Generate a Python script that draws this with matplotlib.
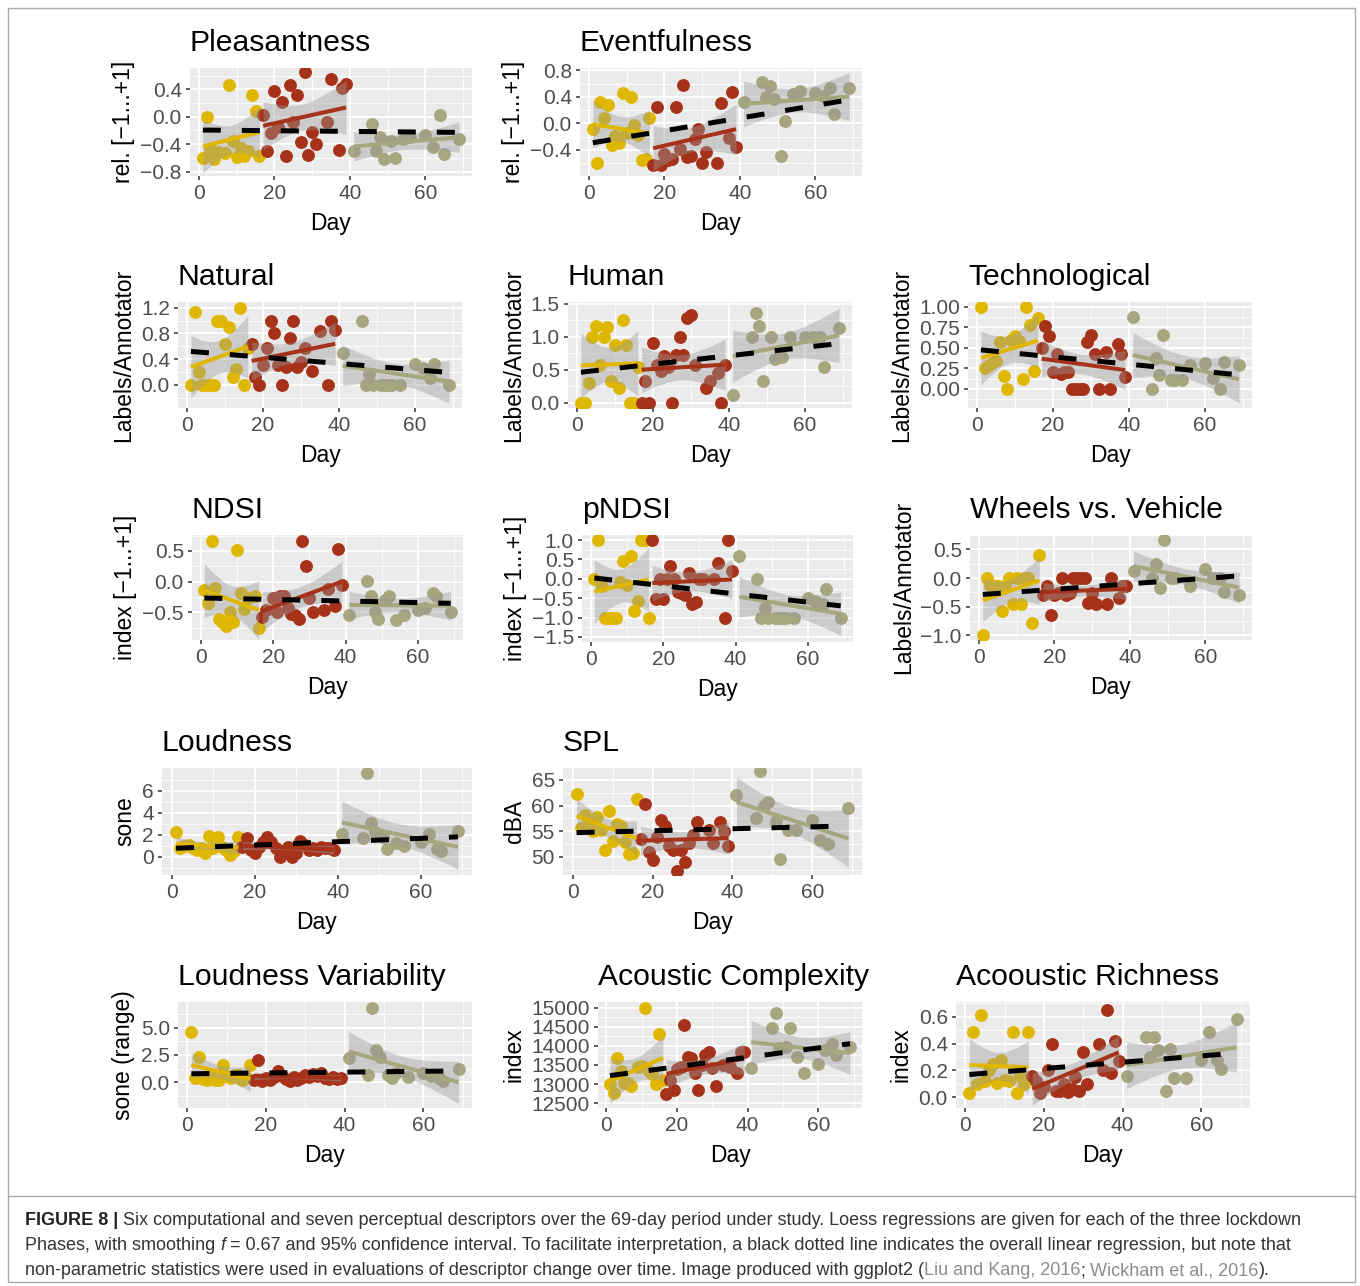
import numpy as np
import matplotlib.pyplot as plt
from matplotlib.lines import Line2D
from matplotlib.patches import Rectangle

plt.rcParams['font.family'] = ['Liberation Sans', 'DejaVu Sans']

nan = np.nan
# days of the three lockdown phases
days1 = np.arange(1, 17)
days2 = np.arange(17, 40)
days3 = np.array([41, 46, 47, 48, 49, 51, 52, 53, 54, 56, 60, 62, 64, 65, 66, 69])

pleas_p1 = [-0.60, -0.01, -0.47, -0.61, -0.51, nan, -0.53, 0.46, -0.35, -0.59, -0.45, -0.57, -0.50, 0.31, 0.09, -0.57]
pleas_p2 = [0.02, -0.50, -0.24, 0.37, -0.15, 0.21, -0.57, 0.46, -0.08, 0.31, -0.37, 0.65, -0.56, -0.22, -0.40, nan, nan, -0.08, 0.55, nan, -0.48, 0.42, 0.47]
pleas_p3 = [-0.50, -0.10, -0.50, -0.29, -0.62, -0.36, -0.60, nan, -0.32, -0.30, -0.27, -0.44, 0.02, -0.55, nan, -0.33]

event_p1 = [-0.08, -0.60, 0.33, 0.08, 0.27, -0.33, -0.19, -0.30, 0.46, -0.15, 0.40, -0.03, -0.18, -0.56, -0.54, 0.08]
event_p2 = [-0.63, 0.25, -0.63, -0.46, -0.56, -0.54, 0.25, -0.38, 0.58, -0.51, -0.49, -0.23, -0.09, -0.60, -0.43, nan, nan, -0.60, 0.31, nan, -0.22, 0.47, -0.35]
event_p3 = [0.33, 0.63, 0.40, 0.56, 0.37, -0.50, 0.03, nan, 0.45, 0.49, 0.46, 0.42, 0.54, 0.14, nan, 0.54]

natural_p1 = [0, 1.13, 0.20, 0, 0, 0, 0, 1.0, 1.0, 0.63, 0.90, 0.12, 0.25, 1.20, 0, 0.57]
natural_p2 = [0.63, 0.13, 0, 0.31, 0.58, 1.0, 0.80, 0.31, 0, 0.28, 0.73, 1.0, 0.28, 0.36, 0.58, nan, 0.22, nan, 0.84, nan, 0, 1.0, 0.85]
natural_p3 = [0.50, 1.0, 0, 0.17, 0, 0, 0, 0, 0, 0, 0.33, 0.26, 0.11, 0.33, nan, 0]

human_p1 = [0, 0, 0.30, 1.0, 1.17, 0.58, 1.0, 1.15, 0.33, 0.88, 0.22, 1.25, 0.88, 0, 0, 0.55]
human_p2 = [0, 0.33, 0, 0.90, 0.58, 0.48, 0.71, 0.55, 0, 0.72, 1.0, 0.72, 1.28, 1.33, 0.57, nan, nan, 0.22, 0.33, nan, 0.45, 0, 0.57]
human_p3 = [0.12, 1.0, 1.37, 1.17, 0.33, 1.0, 0.67, nan, 0.70, 1.0, 1.0, 1.0, 1.0, 0.55, nan, 1.14]

tech_p1 = [1.0, 0.25, 0.29, 0.31, 0.34, 0.57, 0.16, 0, 0.60, 0.64, 0.58, 0.12, 1.0, 0.78, 0.22, 0.86]
tech_p2 = [0.50, 0.77, 0.64, 0.20, 0.42, 0.18, 0.20, 0.20, 0, 0, 0, 0, 0.57, 0.66, 0.43, 0, nan, 0.45, 0, nan, 0.55, 0.43, 0.14]
tech_p3 = [0.88, 0, 0.37, 0.17, 0.66, 0.11, 0.11, nan, 0.11, 0.29, 0.32, 0.13, 0, 0.33, nan, 0.29]

ndsi_p1 = [-0.14, -0.34, 0.67, -0.10, -0.60, -0.65, -0.73, -0.49, -0.65, 0.52, -0.19, -0.45, -0.27, nan, -0.24, -0.75]
ndsi_p2 = [-0.57, -0.46, nan, -0.27, -0.49, -0.24, -0.24, -0.43, -0.52, -0.54, -0.60, 0.67, 0.25, -0.27, -0.50, nan, nan, -0.46, -0.12, nan, -0.39, 0.53, -0.05]
ndsi_p3 = [-0.54, 0.01, -0.24, -0.49, -0.60, -0.30, -0.24, nan, -0.62, -0.55, -0.46, -0.43, -0.19, -0.24, nan, -0.50]

pndsi_p1 = [0, 1.0, -0.19, -1, -1, -1, -1, -0.07, 0.47, -0.17, 0.59, -0.84, -0.56, 1.0, 1.0, -1.0]
pndsi_p2 = [1.0, -0.52, 0, -0.52, 0, 0.33, 0, -0.33, -0.36, -0.43, 0.16, -0.64, -0.60, 0, 0, nan, nan, 0, 0.41, nan, -1.0, 1.0, 0.19]
pndsi_p3 = [0.59, 0, -1, -0.75, -1, -1, -1, -1, -1, -1, -0.50, -0.56, -0.64, -0.26, nan, -1.0]

wheels_p1 = [-1.0, 0, -0.12, -0.14, -0.14, -0.57, -0.14, 0, -0.46, 0, -0.45, 0, 0, -0.79, nan, 0.41]
wheels_p2 = [-0.29, -0.14, -0.64, -0.29, -0.26, 0, -0.29, -0.26, 0, 0, 0, 0, -0.43, -0.26, -0.45, nan, nan, -0.45, 0, nan, -0.34, -0.14, -0.14]
wheels_p3 = [0.13, 0, 0.24, -0.18, 0.66, 0, 0, nan, nan, -0.14, 0.16, 0, 0, -0.24, nan, -0.29]

loud_p1 = [2.2, 0.77, 1.0, 1.07, 0.77, 0.6, 0.8, 0.3, 1.85, 0.77, 1.78, 0.85, 0.6, 0.15, 0.5, 1.78]
loud_p2 = [0.9, 1.68, 0.6, 0.3, 0.9, 1.37, 1.78, 1.37, 0.77, 0.0, 0.37, 0.9, 0.0, 0.37, 1.46, 1.07, 0.6, 0.77, 0.6, 0.9, 0.77, 0.77, 0.6]
loud_p3 = [2.1, 1.68, 7.6, 3.05, 2.2, 1.78, 0.67, nan, 1.28, 0.98, 1.37, 2.1, 0.67, 0.55, nan, 2.3]

spl_p1 = [62.3, 55.7, 58.1, 57.0, 55.0, 57.7, 55.3, 51.3, 59.0, 53.2, 56.5, 56.1, 53.0, 50.5, 50.8, 61.2]
spl_p2 = [53.5, 60.3, 51.0, 49.5, 53.8, 57.2, 56.1, 52.1, 51.3, 47.2, 51.3, 49.0, 52.8, 54.3, 56.8, nan, nan, 55.3, 52.7, nan, 56.8, 55.0, 52.1]
spl_p3 = [62.1, 57.5, 66.7, 60.0, 60.7, 57.0, 49.7, nan, 55.3, 55.3, 57.2, 53.3, 52.5, nan, nan, 59.5]

loudvar_p1 = [4.6, 0.4, 2.36, 0.3, 0.24, 0.5, 0.24, 0.24, 1.6, 0.6, 0.4, 0.7, 0.7, 0.24, 0.5, 1.6]
loudvar_p2 = [0.24, 2.0, 0.1, 0.4, 0.2, 0.5, 1.0, 0.6, 0.3, 0.1, 0.5, 0.2, 0.4, 0.7, 0.5, 0.8, 0.6, 0.9, 0.4, 0.3, 0.5, 0.3, 0.4]
loudvar_p3 = [2.2, 0.7, 6.8, 2.96, 2.3, 0.7, 0.4, 0.85, nan, 0.5, 0.9, 0.6, 0.4, 0.1, nan, 1.2]

acomp_p1 = [13000, 12770, 13670, 13330, 13040, 13030, 12940, nan, 13460, 13480, 15000, 13330, 13270, 12990, 14310, 13120]
acomp_p2 = [12740, 13120, 12840, 13400, 13450, 14550, 13720, 13670, 13290, 12850, 13500, 13750, 13840, 13430, 12940, nan, 13500, nan, 13460, nan, 13290, 13840, 13850]
acomp_p3 = [13420, nan, 14460, 14860, 13950, 13980, 14480, nan, 13720, 13280, 13530, 13900, 14050, 13750, nan, 13980]

arich_p1 = [0.03, 0.49, 0.10, 0.61, 0.12, 0.20, 0.25, 0.11, 0.28, 0.13, 0.12, 0.49, 0.03, 0.16, 0.10, 0.49]
arich_p2 = [0.16, 0.12, 0.03, 0.08, 0.20, 0.40, 0.05, 0.05, 0.10, 0.04, 0.06, 0.15, 0.05, 0.34, 0.10, nan, nan, 0.40, 0.20, 0.65, 0.18, 0.42, 0.27]
arich_p3 = [0.16, 0.45, 0.30, 0.45, 0.35, 0.05, 0.36, 0.14, nan, 0.14, 0.28, 0.49, 0.28, 0.21, nan, 0.58]

phase_colors = ['#E0B700', '#A53219', '#A6A67F']

# title, y label, data, ylim, yticks, decimals, pixel box (x0, y0, x1, y1)
panels = [
    ('Pleasantness', 'rel. [\u22121...+1]', (pleas_p1, pleas_p2, pleas_p3), (-0.865, 0.71), [-0.8, -0.4, 0.0, 0.4], 1, (190, 68, 472, 176)),
    ('Eventfulness', 'rel. [\u22121...+1]', (event_p1, event_p2, event_p3), (-0.795, 0.836), [-0.4, 0.0, 0.4, 0.8], 1, (580, 68, 862, 176)),
    ('Natural', 'Labels/Annotator', (natural_p1, natural_p2, natural_p3), (-0.36, 1.29), [0.0, 0.4, 0.8, 1.2], 1, (178, 302, 462, 408)),
    ('Human', 'Labels/Annotator', (human_p1, human_p2, human_p3), (-0.08, 1.53), [0.0, 0.5, 1.0, 1.5], 1, (568, 302, 852, 408)),
    ('Technological', 'Labels/Annotator', (tech_p1, tech_p2, tech_p3), (-0.235, 1.06), [0.0, 0.25, 0.5, 0.75, 1.0], 2, (968, 302, 1252, 408)),
    ('NDSI', 'index [\u22121...+1]', (ndsi_p1, ndsi_p2, ndsi_p3), (-0.95, 0.76), [-0.5, 0.0, 0.5], 1, (192, 535, 463, 640)),
    ('pNDSI', 'index [\u22121...+1]', (pndsi_p1, pndsi_p2, pndsi_p3), (-1.63, 1.13), [-1.5, -1.0, -0.5, 0.0, 0.5, 1.0], 1, (582, 535, 853, 642)),
    ('Wheels vs. Vehicle', 'Labels/Annotator', (wheels_p1, wheels_p2, wheels_p3), (-1.08, 0.75), [-1.0, -0.5, 0.0, 0.5], 1, (970, 535, 1252, 640)),
    ('Loudness', 'sone', (loud_p1, loud_p2, loud_p3), (-1.68, 8.07), [0, 2, 4, 6], 0, (162, 768, 472, 875)),
    ('SPL', 'dBA', (spl_p1, spl_p2, spl_p3), (46.5, 67.3), [50, 55, 60, 65], 0, (563, 768, 862, 875)),
    ('Loudness Variability', 'sone (range)', (loudvar_p1, loudvar_p2, loudvar_p3), (-2.32, 7.32), [0.0, 2.5, 5.0], 1, (178, 1002, 472, 1108)),
    ('Acoustic Complexity', 'index', (acomp_p1, acomp_p2, acomp_p3), (12375, 15147), [12500, 13000, 13500, 14000, 14500, 15000], 0, (598, 1002, 862, 1108)),
    ('Acooustic Richness', 'index', (arich_p1, arich_p2, arich_p3), (-0.08, 0.71), [0.0, 0.2, 0.4, 0.6], 1, (956, 1002, 1250, 1108)),
]

W, H = 1360, 1286
fig = plt.figure(figsize=(W / 100, H / 100), dpi=100)


def px_box(x0, y0, x1, y1):
    return [x0 / W, 1 - y1 / H, (x1 - x0) / W, (y1 - y0) / H]


def t975(df):
    z = 1.959964
    return z + (z**3 + z) / (4 * df) + (5 * z**5 + 16 * z**3 + 3 * z) / (96 * df**2)


def linfit(x, y):
    x = np.asarray(x, float)
    y = np.asarray(y, float)
    ok = np.isfinite(y)
    x, y = x[ok], y[ok]
    b, a = np.polyfit(x, y, 1)
    xs = np.linspace(x.min(), x.max(), 80)
    yh = a + b * xs
    n = len(x)
    s = np.sqrt(np.sum((y - (a + b * x))**2) / (n - 2))
    se = s * np.sqrt(1 / n + (xs - x.mean())**2 / np.sum((x - x.mean())**2))
    return xs, yh, t975(n - 2) * se


def fmt(v, dec):
    s = f'{v:.{dec}f}'
    return s.replace('-', '\u2212')


for title, ylab, data, ylim, yticks, dec, bx in panels:
    ax = fig.add_axes(px_box(*bx))
    ax.set_facecolor('#EBEBEB')
    for sp in ax.spines.values():
        sp.set_visible(False)

    groups = list(zip((days1, days2, days3), data, phase_colors))
    for d, y, c in groups:
        ax.scatter(d, y, s=86, color=c, lw=0, zorder=2)
    for d, y, c in groups:
        xs, yh, ci = linfit(d, y)
        ax.fill_between(xs, yh - ci, yh + ci, color='#999999', alpha=0.4, lw=0, zorder=3)
        ax.plot(xs, yh, color=c, lw=2.9, zorder=4, solid_capstyle='butt')

    allx = np.concatenate([days1, days2, days3])
    ally = np.concatenate([np.asarray(v, float) for v in data])
    xs, yh, _ = linfit(allx, ally)
    ax.plot(xs, yh, color='black', lw=3.6, ls=(0, (3.6, 4.2)), zorder=5)

    ax.set_xlim(-2.4, 72.4)
    ax.set_ylim(*ylim)
    ax.set_xticks([0, 20, 40, 60])
    ax.set_xticks([10, 30, 50, 70], minor=True)
    ax.set_yticks(yticks)
    ax.set_yticklabels([fmt(v, dec) for v in yticks])
    step = yticks[1] - yticks[0]
    minors = np.arange(yticks[0] - step / 2, yticks[-1] + step, step)
    ax.set_yticks([m for m in minors if ylim[0] <= m <= ylim[1]], minor=True)
    ax.grid(which='major', color='white', lw=1.3)
    ax.grid(which='minor', color='white', lw=0.6)
    ax.set_axisbelow(True)
    ax.tick_params(which='major', length=2.9, width=1.1, color='#333333',
                   labelsize=15, labelcolor='#4D4D4D', pad=3)
    ax.tick_params(which='minor', length=0)

    ax.set_title(title, loc='left', fontsize=21.7, pad=12)
    ax.set_xlabel('Day', fontsize=16.5, labelpad=6)
    ax.set_ylabel(ylab, fontsize=16.5, labelpad=4)

# frame and caption
fig.add_artist(Rectangle((8 / W, 1 - 1282 / H), (1355 - 8) / W, (1282 - 8) / H,
                         transform=fig.transFigure, fill=False, edgecolor='#AAAAAA', lw=1))
fig.add_artist(Line2D([8 / W, 1355 / W], [1 - 1196 / H] * 2, transform=fig.transFigure,
                      color='#AAAAAA', lw=1))

cap_size = 13.0
renderer = fig.canvas.get_renderer()


def text_width(s, **kw):
    t = fig.text(0, 0, s, fontsize=cap_size, **kw)
    w = t.get_window_extent(renderer).width
    t.remove()
    return w


space_w = text_width('x x') - text_width('xx')


def rich_line(ypx, parts):
    x = 25
    for s, kw, gap in parts:
        t = fig.text(x / W, 1 - ypx / H, s, fontsize=cap_size, va='baseline',
                     color=kw.get('color', '#333333'), weight=kw.get('weight', 'normal'),
                     style=kw.get('style', 'normal'))
        x += t.get_window_extent(renderer).width + (space_w if gap else 0)


link = {'color': '#8C8C8C'}
rich_line(1225, [('FIGURE 8 |', {'weight': 'bold', 'color': '#222222'}, True),
                 ('Six computational and seven perceptual descriptors over the 69-day period under study. '
                  'Loess regressions are given for each of the three lockdown', {}, False)])
rich_line(1250, [('Phases, with smoothing', {}, True), ('f', {'style': 'italic'}, True),
                 ('= 0.67 and 95% confidence interval. To facilitate interpretation, a black dotted line '
                  'indicates the overall linear regression, but note that', {}, False)])
rich_line(1275, [('non-parametric statistics were used in evaluations of descriptor change over time. '
                  'Image produced with ggplot2 (', {}, False),
                 ('Liu and Kang, 2016', link, False), (';', {}, True),
                 ('Wickham et al., 2016', link, False), (').', {}, False)])

fig.savefig('out.png', dpi=100)
